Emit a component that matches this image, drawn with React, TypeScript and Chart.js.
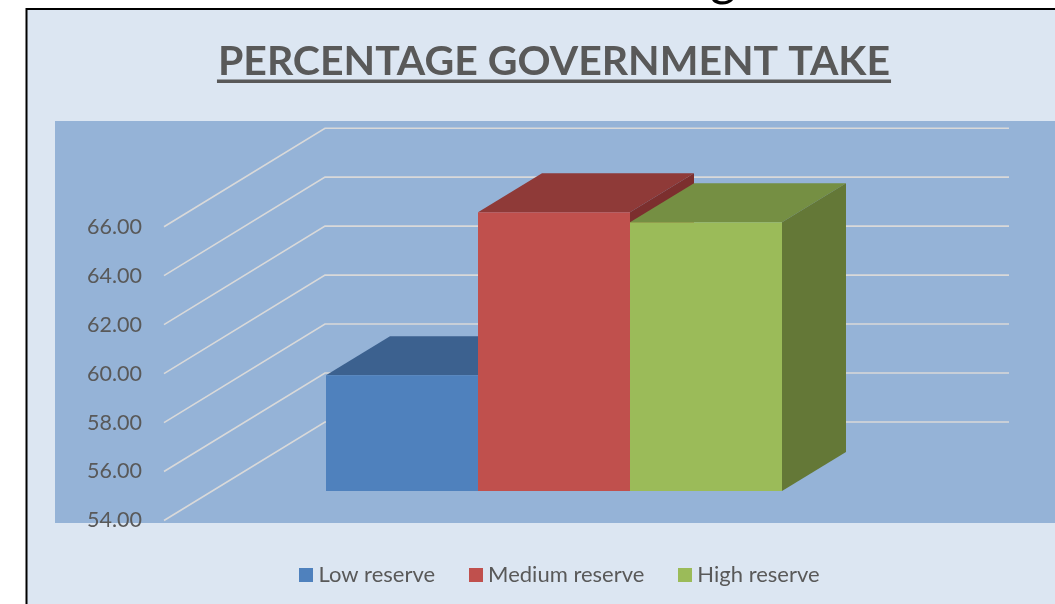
import React, { useEffect, useRef } from "react";
import { Chart, registerables } from "chart.js";

Chart.register(...registerables);

const categories = ["Government take"];
const seriesNames = ["Low reserve", "Medium reserve", "High reserve"];
const lowReserve = [58.73];
const mediumReserve = [65.39];
const highReserve = [64.98];

const frontColors = ["#4F81BD", "#C0504D", "#9BBB59"];
const topColors = ["#3C618F", "#8F3A38", "#758F43"];
const sideColors = ["#345479", "#7C2F2E", "#647837"];

const FONT = "Lato, Carlito, 'Open Sans', sans-serif";
const TEXT = "#595959";

// Floor offsets of the oblique projection, relative to the plane holding the bars.
const WALL_DX = 113;
const WALL_DY = -69;
const FRONT_DX = -48;
const FRONT_DY = 29.5;
const BAR_DX = 64;
const BAR_DY = -39;

function swatch(color: string) {
  const c = document.createElement("canvas");
  c.width = 14;
  c.height = 14;
  const g = c.getContext("2d")!;
  g.fillStyle = color;
  g.fillRect(0, 0, 14, 14);
  return c;
}

function poly(ctx: CanvasRenderingContext2D, pts: number[][], fill: string) {
  ctx.beginPath();
  pts.forEach(([x, y], i) => (i ? ctx.lineTo(x, y) : ctx.moveTo(x, y)));
  ctx.closePath();
  ctx.fillStyle = fill;
  ctx.fill();
}

const framePlugin = {
  id: "frame",
  afterLayout(chart: any) {
    const l = chart.legend;
    l.left += 8;
    l.right += 8;
    l.top -= 8;
    l.bottom -= 8;
  },
  beforeDraw(chart: any) {
    const { ctx, width, height } = chart;
    ctx.save();
    ctx.fillStyle = "#FFFFFF";
    ctx.fillRect(0, 0, width, height);
    ctx.fillStyle = "#DCE6F2";
    ctx.fillRect(26, 9, width - 26, height - 9);
    ctx.fillStyle = "#95B3D7";
    ctx.fillRect(55, 121, width - 55, 402);
    ctx.strokeStyle = "#000000";
    ctx.lineWidth = 2;
    ctx.beginPath();
    ctx.moveTo(26.5, height);
    ctx.lineTo(26.5, 9);
    ctx.lineTo(width, 9);
    ctx.stroke();
    // Descender of the slide heading sitting above the chart frame
    ctx.fillStyle = "#000000";
    ctx.font = `50px ${FONT}`;
    ctx.textAlign = "left";
    ctx.textBaseline = "alphabetic";
    ctx.fillText("g", 710, -5);
    ctx.restore();
  },
  beforeDatasetsDraw(chart: any) {
    const { ctx, chartArea, scales } = chart;
    const y = scales.y;
    ctx.save();
    ctx.strokeStyle = "#D9D9D9";
    ctx.lineWidth = 1.6;
    y.ticks.forEach((t: any) => {
      const py = y.getPixelForValue(t.value);
      ctx.beginPath();
      ctx.moveTo(chartArea.left + FRONT_DX, py + FRONT_DY);
      ctx.lineTo(chartArea.left + WALL_DX, py + WALL_DY);
      ctx.lineTo(chartArea.right + WALL_DX, py + WALL_DY);
      ctx.stroke();
    });
    // Top and side faces go first; the library paints the front faces over them.
    chart.data.datasets.forEach((_: any, i: number) => {
      const bar = chart.getDatasetMeta(i).data[0];
      const l = bar.x - bar.width / 2;
      const r = bar.x + bar.width / 2;
      const base = Math.min(bar.base, chartArea.bottom);
      poly(ctx, [[l, bar.y], [l + BAR_DX, bar.y + BAR_DY], [r + BAR_DX, bar.y + BAR_DY], [r, bar.y]], topColors[i]);
      poly(ctx, [[r, bar.y], [r + BAR_DX, bar.y + BAR_DY], [r + BAR_DX, base + BAR_DY], [r, base]], sideColors[i]);
    });
    ctx.restore();
  },
  afterDraw(chart: any) {
    // Heading underline, sized from the heading text itself
    const { ctx, chartArea } = chart;
    const t = chart.options.plugins.title;
    ctx.save();
    ctx.font = `bold ${t.font.size}px ${FONT}`;
    const w = ctx.measureText(t.text).width;
    const cx = (chartArea.left + chartArea.right) / 2;
    ctx.fillStyle = TEXT;
    ctx.fillRect(cx - w / 2 - 1, 79.5, w + 2, 3.5);
    ctx.restore();
  },
};

export default function App() {
  const ref = useRef<HTMLCanvasElement>(null);
  useEffect(() => {
    const series = [lowReserve, mediumReserve, highReserve];
    const chart = new Chart(ref.current!, {
      type: "bar",
      data: {
        labels: categories,
        datasets: series.map((data, i) => ({
          label: seriesNames[i],
          data,
          backgroundColor: frontColors[i],
          borderWidth: 0,
          barPercentage: 1,
          categoryPercentage: 2 / 3,
        })),
      },
      options: {
        responsive: false,
        animation: false,
        layout: { padding: { left: 0, right: 159, top: 0, bottom: 0 } },
        scales: {
          x: {
            display: true,
            grid: { display: false },
            border: { display: false },
            ticks: { display: false },
            afterFit: (s: any) => {
              s.height = 42;
            },
          },
          y: {
            min: 54,
            max: 66,
            grid: { display: false, drawTicks: false },
            border: { display: false },
            afterFit: (s: any) => {
              s.width = 212;
            },
            ticks: {
              stepSize: 2,
              padding: 70,
              labelOffset: FRONT_DY,
              color: TEXT,
              font: { family: FONT, size: 21.5 },
              callback: (v: any) => Number(v).toFixed(2),
            },
          },
        },
        plugins: {
          tooltip: { enabled: false },
          title: {
            display: true,
            fullSize: false,
            text: "PERCENTAGE GOVERNMENT TAKE",
            color: TEXT,
            font: { family: FONT, size: 41, weight: "bold" },
            padding: { top: 37, bottom: 111 },
          },
          legend: {
            display: true,
            position: "bottom",
            fullSize: false,
            labels: {
              color: TEXT,
              font: { family: FONT, size: 22 },
              usePointStyle: true,
              boxWidth: 3,
              boxHeight: 14,
              padding: 39,
              generateLabels: (c: any) =>
                c.data.datasets.map((d: any, i: number) => ({
                  text: d.label,
                  fillStyle: frontColors[i],
                  strokeStyle: frontColors[i],
                  fontColor: TEXT,
                  lineWidth: 0,
                  hidden: false,
                  datasetIndex: i,
                  pointStyle: swatch(frontColors[i]),
                })),
            },
          },
        },
      },
      plugins: [framePlugin],
    } as any);
    return () => chart.destroy();
  }, []);
  return (
    <div style={{ position: "absolute", left: 0, top: 0, width: 1055, height: 604 }}>
      <canvas ref={ref} width={1055} height={604} style={{ display: "block" }} />
    </div>
  );
}
